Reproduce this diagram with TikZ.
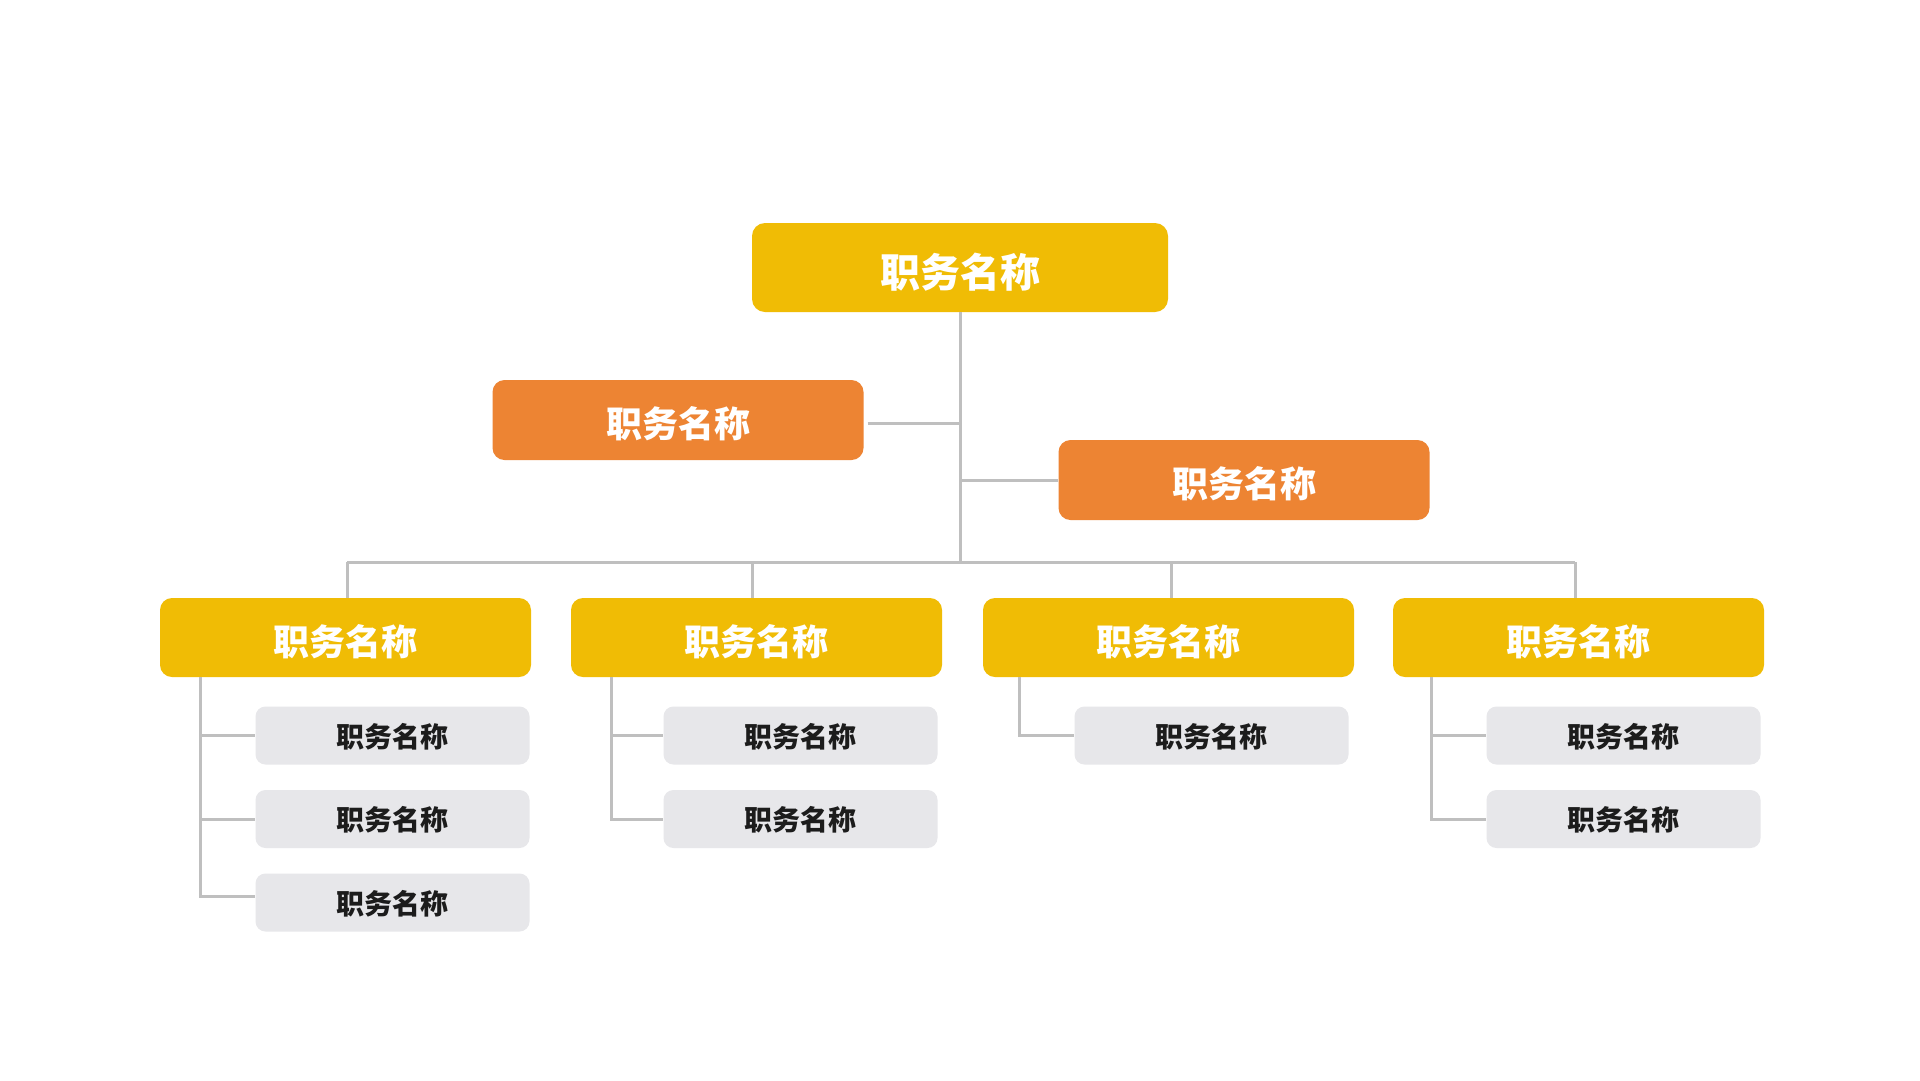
\documentclass[tikz,border=0pt]{standalone}
\usepackage{fontspec}
\setmainfont{Noto Sans CJK SC}
\definecolor{cyel}{HTML}{F0BC05}
\definecolor{corg}{HTML}{ED8433}
\definecolor{cgry}{HTML}{E7E7EA}
\definecolor{cln}{HTML}{BFBFBF}
\definecolor{ctxt}{HTML}{1C1C1C}
\newcommand\lowertext[2]{\raisebox{-#1}[\height][\depth]{#2}}
\begin{document}
\begin{tikzpicture}[x=1pt,y=-1pt,
  topbox/.style={fill=cyel, rounded corners=13pt, inner sep=0pt, minimum width=416pt, minimum height=89pt, text=white, font=\fontsize{40}{44}\selectfont\bfseries},
  orgbox/.style={fill=corg, rounded corners=12pt, inner sep=0pt, minimum width=371pt, minimum height=80pt, text=white, font=\fontsize{36}{40}\selectfont\bfseries},
  midbox/.style={fill=cyel, rounded corners=12pt, inner sep=0pt, minimum width=371pt, minimum height=79pt, text=white, font=\fontsize{36}{40}\selectfont\bfseries},
  subbox/.style={fill=cgry, rounded corners=10pt, inner sep=0pt, minimum width=274pt, minimum height=58pt, text=ctxt, font=\fontsize{28}{32}\selectfont\bfseries},
  conn/.style={draw=cln, line width=3pt}]
\useasboundingbox (0,0) rectangle (1920,1080);
\fill[white] (0,0) rectangle (1920,1080);

% nodes
\node[topbox] (top) at (960,267.5) {\lowertext{5pt}{职务名称}};
\node[orgbox] (lo) at (678,420) {\lowertext{3.5pt}{职务名称}};
\node[orgbox] (ro) at (1244,480) {\lowertext{3.5pt}{职务名称}};

\node[midbox] (b1) at (345.5,637.5) {\lowertext{4.5pt}{职务名称}};
\node[midbox] (b2) at (756.5,637.5) {\lowertext{4.5pt}{职务名称}};
\node[midbox] (b3) at (1168.5,637.5) {\lowertext{4.5pt}{职务名称}};
\node[midbox] (b4) at (1578.5,637.5) {\lowertext{4.5pt}{职务名称}};

\node[subbox] (c11) at (392.5,735.5) {\lowertext{1pt}{职务名称}};
\node[subbox] (c12) at (392.5,819) {\lowertext{1pt}{职务名称}};
\node[subbox] (c13) at (392.5,902.5) {\lowertext{1pt}{职务名称}};
\node[subbox] (c21) at (800.5,735.5) {\lowertext{1pt}{职务名称}};
\node[subbox] (c22) at (800.5,819) {\lowertext{1pt}{职务名称}};
\node[subbox] (c31) at (1211.5,735.5) {\lowertext{1pt}{职务名称}};
\node[subbox] (c41) at (1623.5,735.5) {\lowertext{1pt}{职务名称}};
\node[subbox] (c42) at (1623.5,819) {\lowertext{1pt}{职务名称}};

\coordinate (bus) at (960,562);

% trunk
\draw[conn] (top.south) -- (bus);
\draw[conn] ([xshift=4pt,yshift=-3pt]lo.east) -- ([yshift=-3pt]lo.east -| top.south);
\draw[conn] (ro.west) -- (ro.west -| top.south);
\draw[conn] ([xshift=1.5pt]b1.north |- bus) -- ([xshift=-3.5pt]b4.north |- bus);
\draw[conn] ([xshift=1.5pt]b1.north |- bus) -- ([xshift=1.5pt]b1.north);
\draw[conn] ([xshift=-4.5pt]b2.north |- bus) -- ([xshift=-4.5pt]b2.north);
\draw[conn] ([xshift=2.5pt]b3.north |- bus) -- ([xshift=2.5pt]b3.north);
\draw[conn] ([xshift=-3.5pt]b4.north |- bus) -- ([xshift=-3.5pt]b4.north);

% children
\draw[conn] ([xshift=41pt]b1.south west) |- ([yshift=6.5pt]c13.west);
\draw[conn] ([xshift=41pt]b1.south west |- c11.west) -- (c11.west);
\draw[conn] ([xshift=41pt]b1.south west |- c12.west) -- (c12.west);

\draw[conn] ([xshift=41pt]b2.south west) |- (c22.west);
\draw[conn] ([xshift=41pt]b2.south west |- c21.west) -- (c21.west);

\draw[conn] ([xshift=37pt]b3.south west) |- (c31.west);

\draw[conn] ([xshift=39pt]b4.south west) |- (c42.west);
\draw[conn] ([xshift=39pt]b4.south west |- c41.west) -- (c41.west);
\end{tikzpicture}
\end{document}
